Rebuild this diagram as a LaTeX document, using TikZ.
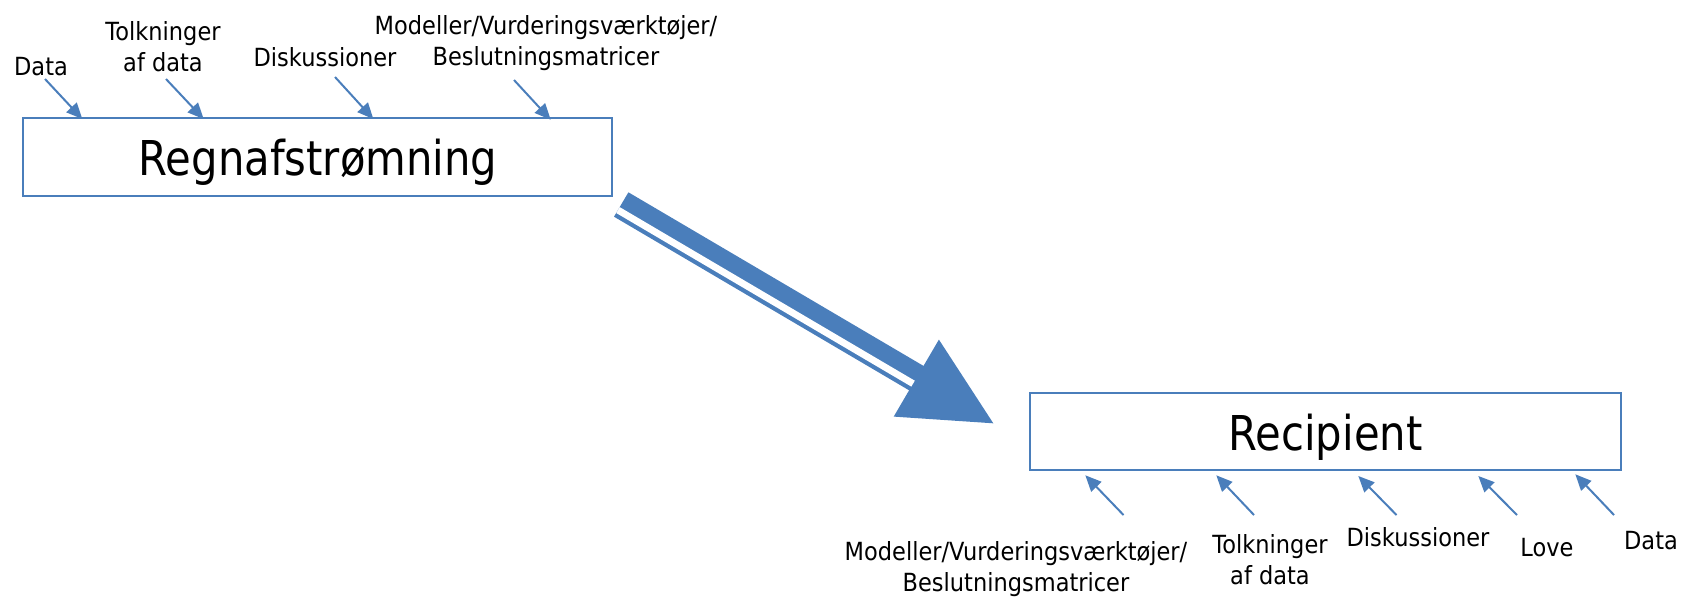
\documentclass[tikz,border=0pt]{standalone}
\usepackage{fontspec}
\setmainfont[FakeStretch=0.9]{DejaVu Sans}
\newfontfamily\bigfont[FakeStretch=0.87]{DejaVu Sans}
\usetikzlibrary{arrows.meta}
\definecolor{boxblue}{RGB}{74,126,187}
\definecolor{arrblue}{RGB}{74,126,187}
\tikzset{
  mainbox/.style={draw=boxblue, line width=2pt, fill=white, inner sep=0pt},
  bigtext/.style={font=\bigfont\fontsize{48}{56}\selectfont, inner sep=0pt, anchor=base},
  lbl/.style={font=\fontsize{25}{31}\selectfont, inner sep=0pt, anchor=base, align=center},
  inarrow/.style={draw=arrblue, line width=2pt, -{Triangle[length=16pt,width=14pt]}, shorten >=-1pt}
}
\begin{document}
\begin{tikzpicture}[x=1pt,y=-1pt]
\useasboundingbox (0,0) rectangle (1693,598);

% boxes
\node[mainbox, minimum width=589.6pt, minimum height=77.7pt] (regn) at (317.5,157.15) {};
\node[bigtext] (regntxt) at (318,175.7) {Regnafstrømning};
\node[mainbox, minimum width=591pt, minimum height=77.3pt] (reci) at (1325.5,431.35) {};
\node[bigtext] (recitxt) at (1325.5,450) {Recipient};

% big arrow
\coordinate (tailT) at (628.4,192.3);
\coordinate (tailB) at (614.0,216.7);
\coordinate (baseT) at (923.5,365.9);
\coordinate (baseB) at (909.1,390.3);
\coordinate (headT) at (938.9,339.6);
\coordinate (headB) at (893.7,416.6);
\coordinate (tip)   at (993.3,423.3);
\fill[arrblue] (tailT) -- (baseT) -- (headT) -- (tip) -- (headB) -- (baseB) -- (tailB) -- cycle;
\coordinate (s1) at (619.7,207.1);
\coordinate (s2) at (616.2,213.0);
\coordinate (s3) at (911.3,386.6);
\coordinate (s4) at (914.8,380.7);
\fill[white] (s1) -- (s4) -- (s3) -- (s2) -- cycle;

% top labels (base = baseline of the last line)
\node[lbl] (t1) at (41,75) {Data};
\node[lbl] (t2) at (163,71) {Tolkninger\\af data};
\node[lbl] (t3) at (325,66) {Diskussioner};
\node[lbl] (t4) at (546,65.5) {Modeller/Vurderingsværktøjer/\\Beslutningsmatricer};

% top arrows
\coordinate (a1s) at (45,79);    \coordinate (a1e) at (81.7,118.3);
\coordinate (a2s) at (166,79);   \coordinate (a2e) at (203,118.3);
\coordinate (a3s) at (335,77);   \coordinate (a3e) at (372.7,118.3);
\coordinate (a4s) at (514,80);   \coordinate (a4e) at (550,119);
\draw[inarrow] (a1s) -- (a1e);
\draw[inarrow] (a2s) -- (a2e);
\draw[inarrow] (a3s) -- (a3e);
\draw[inarrow] (a4s) -- (a4e);

% bottom labels
\node[lbl] (b1) at (1016,591.7) {Modeller/Vurderingsværktøjer/\\Beslutningsmatricer};
\node[lbl] (b2) at (1270,584) {Tolkninger\\af data};
\node[lbl] (b3) at (1418,546.7) {Diskussioner};
\node[lbl] (b4) at (1547,556) {Love};
\node[lbl] (b5) at (1651,549.3) {Data};

% bottom arrows
\coordinate (c1s) at (1123.5,515); \coordinate (c1e) at (1086,476);
\coordinate (c2s) at (1254,515);   \coordinate (c2e) at (1217,476);
\coordinate (c3s) at (1396.5,515); \coordinate (c3e) at (1359,476.7);
\coordinate (c4s) at (1517,515);   \coordinate (c4e) at (1479,476.7);
\coordinate (c5s) at (1614,515);   \coordinate (c5e) at (1576,475);
\draw[inarrow] (c1s) -- (c1e);
\draw[inarrow] (c2s) -- (c2e);
\draw[inarrow] (c3s) -- (c3e);
\draw[inarrow] (c4s) -- (c4e);
\draw[inarrow] (c5s) -- (c5e);
\end{tikzpicture}
\end{document}
